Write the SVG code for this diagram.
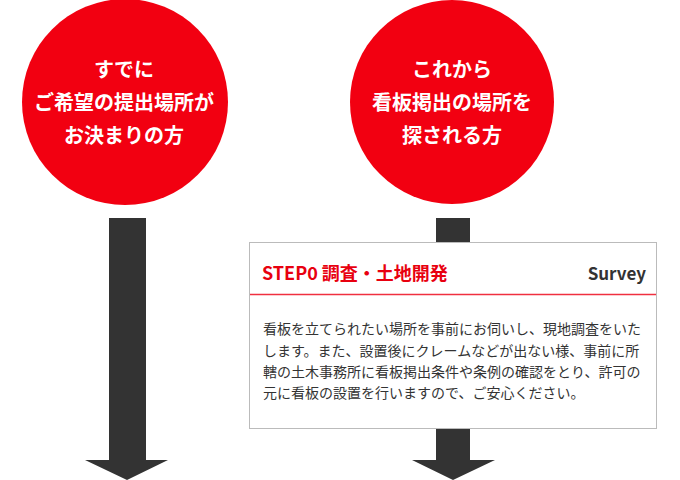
<svg xmlns="http://www.w3.org/2000/svg" width="680" height="480" viewBox="0 0 680 480">
<style>
.circ{fill:#f20011}
.ct{fill:#fff;font-family:"Noto Sans CJK JP","Noto Sans",sans-serif;font-weight:bold;font-size:20px;text-anchor:middle}
.arrow{fill:#333}
.box{fill:#fff;stroke:#bbb;stroke-width:1}
.title{fill:#e8000f;font-family:"Noto Sans CJK JP","Noto Sans",sans-serif;font-weight:bold;font-size:18px}
.sub{fill:#333;font-family:"Noto Sans CJK JP","Noto Sans",sans-serif;font-weight:bold;font-size:17px;text-anchor:end}
.body{fill:#333;font-family:"Noto Sans CJK JP","Noto Sans",sans-serif;font-size:14px}
</style>
<rect width="680" height="480" fill="#fff"/>
<g id="connectors">
<path class="arrow" d="M109 218 H146 V460 H168 L127 480 L85 460 H109 Z"/>
<path class="arrow" d="M436 218 H470 V460 H495 L453 480 L412 460 H436 Z"/>
</g>
<g id="node-left">
<circle class="circ" cx="125" cy="102" r="103"/>
<text class="ct" x="124" y="77">すでに</text>
<text class="ct" x="124" y="110">ご希望の提出場所が</text>
<text class="ct" x="124" y="143">お決まりの方</text>
</g>
<g id="node-right">
<circle class="circ" cx="452" cy="102" r="102"/>
<text class="ct" x="452" y="77">これから</text>
<text class="ct" x="452" y="110">看板掲出の場所を</text>
<text class="ct" x="452" y="143">探される方</text>
</g>
<g id="node-step0">
<rect class="box" x="249.5" y="242.5" width="407" height="186"/>
<line x1="250" y1="294.5" x2="656" y2="294.5" stroke="#f03040" stroke-width="1.5"/>
<text class="title" x="262" y="280">STEP0 調査・土地開発</text>
<text class="sub" x="646" y="280">Survey</text>
<text class="body" x="263" y="334">看板を立てられたい場所を事前にお伺いし、現地調査をいた</text>
<text class="body" x="263" y="356">します。また、設置後にクレームなどが出ない様、事前に所</text>
<text class="body" x="263" y="377">轄の土木事務所に看板掲出条件や条例の確認をとり、許可の</text>
<text class="body" x="263" y="398">元に看板の設置を行いますので、ご安心ください。</text>
</g>
</svg>
